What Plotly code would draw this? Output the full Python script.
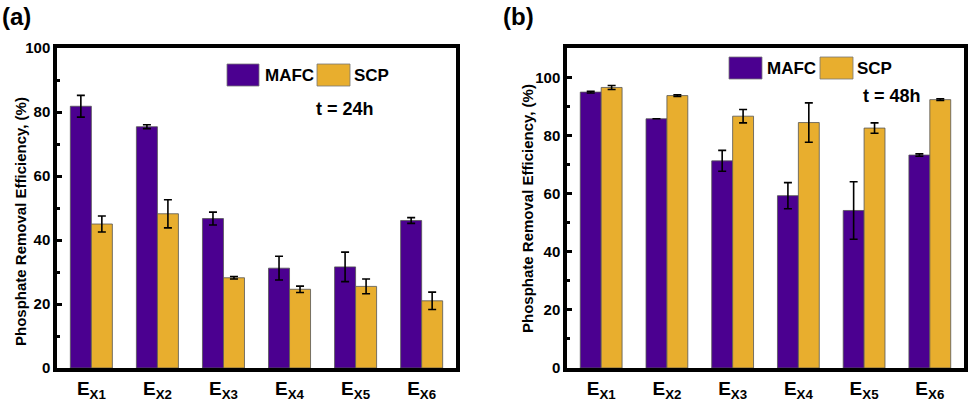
import plotly.graph_objects as go

categories = ["EX1", "EX2", "EX3", "EX4", "EX5", "EX6"]
tick_labels = ["<b>E<sub>X1</sub></b>", "<b>E<sub>X2</sub></b>", "<b>E<sub>X3</sub></b>",
               "<b>E<sub>X4</sub></b>", "<b>E<sub>X5</sub></b>", "<b>E<sub>X6</sub></b>"]

# Panel (a): t = 24h
mafc_24 = [81.8, 75.4, 46.7, 31.2, 31.6, 46.1]
mafc_24_err = [3.4, 0.6, 2.0, 3.7, 4.6, 0.9]
scp_24 = [45.0, 48.2, 28.2, 24.6, 25.5, 21.0]
scp_24_err = [2.5, 4.4, 0.4, 1.0, 2.3, 2.7]

# Panel (b): t = 48h
mafc_48 = [95.1, 85.9, 71.4, 59.4, 54.3, 73.4]
mafc_48_err = [0.3, 0.0, 3.6, 4.5, 9.9, 0.4]
scp_48 = [96.7, 93.9, 86.8, 84.6, 82.7, 92.5]
scp_48_err = [0.7, 0.3, 2.3, 6.8, 1.8, 0.3]

y_ticks_a = [0, 20, 40, 60, 80, 100]
y_ticks_b = [0, 20, 40, 60, 80, 100]
y_title = "Phosphate Removal Efficiency, (%)"

PURPLE = "#4B0090"
GOLD = "#E8AE2E"
W, H = 969, 402
FONT = "Liberation Sans, Arial, sans-serif"


def px(x):
    return x / W


def py(y):
    return 1 - y / H


fig = go.Figure()


def add_bars(xa, ya, vals, errs, color, name):
    fig.add_trace(go.Bar(
        x=categories, y=vals, name=name, xaxis=xa, yaxis=ya,
        marker=dict(color=color, line=dict(color="#555555", width=0.8)),
        error_y=dict(type="data", array=errs, color="black", thickness=1.6, width=4),
        showlegend=False,
    ))


add_bars("x", "y", mafc_24, mafc_24_err, PURPLE, "MAFC")
add_bars("x", "y", scp_24, scp_24_err, GOLD, "SCP")
add_bars("x2", "y2", mafc_48, mafc_48_err, PURPLE, "MAFC")
add_bars("x2", "y2", scp_48, scp_48_err, GOLD, "SCP")

axis_common = dict(
    showline=True, linewidth=3.5, linecolor="black", mirror=True,
    showgrid=False, zeroline=False, automargin=False,
    ticks="inside", ticklen=5, tickwidth=2.5, tickcolor="black",
)

xcommon = dict(axis_common, type="category", range=[-0.52, 5.52],
               tickvals=categories, ticktext=tick_labels,
               ticks="", tickfont=dict(family=FONT, size=19, color="black"))


def yaxis_def(xa, rng, ticks):
    return dict(axis_common, domain=[py(368), py(48)], anchor=xa,
                range=rng, tickvals=ticks, ticktext=[f"<b>{t}</b>" for t in ticks],
                tickfont=dict(family=FONT, size=15, color="black"),
                minor=dict(ticks="inside", ticklen=3, tickwidth=2.5, dtick=10, tickcolor="black"))


fig.update_layout(
    width=W, height=H,
    margin=dict(l=0, r=0, t=0, b=0),
    paper_bgcolor="white", plot_bgcolor="white",
    barmode="group", bargap=0.364, bargroupgap=0,
    xaxis=dict(xcommon, domain=[px(57), px(456)], anchor="y"),
    yaxis=yaxis_def("x", [0, 100], y_ticks_a),
    xaxis2=dict(xcommon, domain=[px(567), px(964)], anchor="y2"),
    yaxis2=yaxis_def("x2", [0, 110.3], y_ticks_b),
)

shapes = []
annotations = []


def legend_block(sw1, sw2, ytop, ybot, t1x, t2x, tx, ty, ttext):
    for (x0, x1), col, lab, lx in [(sw1, PURPLE, "MAFC", t1x), (sw2, GOLD, "SCP", t2x)]:
        shapes.append(dict(type="rect", xref="paper", yref="paper",
                           x0=px(x0), x1=px(x1), y0=py(ybot), y1=py(ytop),
                           fillcolor=col, line=dict(color="#777777", width=0.8)))
        annotations.append(dict(xref="paper", yref="paper", x=px(lx), y=py((ytop + ybot) / 2),
                                xanchor="left", yanchor="middle", showarrow=False,
                                text=f"<b>{lab}</b>",
                                font=dict(family=FONT, size=17, color="black")))
    annotations.append(dict(xref="paper", yref="paper", x=px(tx), y=py(ty),
                            xanchor="left", yanchor="middle", showarrow=False,
                            text=f"<b>{ttext}</b>",
                            font=dict(family=FONT, size=18, color="black")))


legend_block((227, 259), (317, 350), 64, 86, 263, 352, 314, 109, "t = 24h")
legend_block((729, 762), (820, 853), 57, 79, 765, 855, 861, 96, "t = 48h")

for lab, x in [("(a)", 0), ("(b)", 501)]:
    annotations.append(dict(xref="paper", yref="paper", x=px(x), y=py(16), xanchor="left",
                            yanchor="middle", showarrow=False, text=f"<b>{lab}</b>",
                            font=dict(family=FONT, size=24, color="black")))

for cx, cy in [(20, 222), (527, 209)]:
    annotations.append(dict(xref="paper", yref="paper", x=px(cx), y=py(cy), xanchor="center",
                            yanchor="middle", showarrow=False, textangle=-90,
                            text=f"<b>{y_title}</b>",
                            font=dict(family=FONT, size=15, color="black")))

fig.update_layout(shapes=shapes, annotations=annotations)

fig.write_html("out.html", config={"displayModeBar": False},
               post_script="document.body.style.margin='0';")
